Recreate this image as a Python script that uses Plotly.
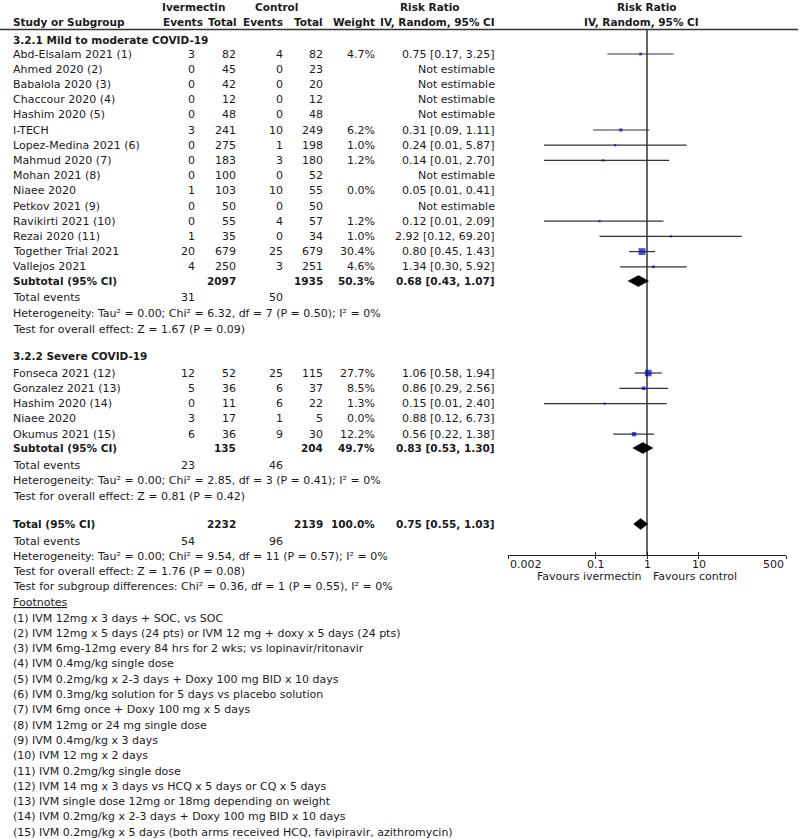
import math
import plotly.graph_objects as go

W, H = 799, 839
FONT = "DejaVu Sans"
FS = 11
FSB = 10.5
TXT = "#1a1a1a"

# ---------------- data ----------------
mild_names = ["Abd-Elsalam 2021 (1)", "Ahmed 2020 (2)", "Babalola 2020 (3)", "Chaccour 2020 (4)",
              "Hashim 2020 (5)", "I-TECH", "Lopez-Medina 2021 (6)", "Mahmud 2020 (7)",
              "Mohan 2021 (8)", "Niaee 2020", "Petkov 2021 (9)", "Ravikirti 2021 (10)",
              "Rezai 2020 (11)", "Together Trial 2021", "Vallejos 2021"]
mild_ivm_events = [3, 0, 0, 0, 0, 3, 0, 0, 0, 1, 0, 0, 1, 20, 4]
mild_ivm_total = [82, 45, 42, 12, 48, 241, 275, 183, 100, 103, 50, 55, 35, 679, 250]
mild_ctl_events = [4, 0, 0, 0, 0, 10, 1, 3, 0, 10, 0, 4, 0, 25, 3]
mild_ctl_total = [82, 23, 20, 12, 48, 249, 198, 180, 52, 55, 50, 57, 34, 679, 251]
mild_weight = [4.7, None, None, None, None, 6.2, 1.0, 1.2, None, 0.0, None, 1.2, 1.0, 30.4, 4.6]
mild_rr = [0.75, None, None, None, None, 0.31, 0.24, 0.14, None, 0.05, None, 0.12, 2.92, 0.80, 1.34]
mild_lo = [0.17, None, None, None, None, 0.09, 0.01, 0.01, None, 0.01, None, 0.01, 0.12, 0.45, 0.30]
mild_hi = [3.25, None, None, None, None, 1.11, 5.87, 2.70, None, 0.41, None, 2.09, 69.20, 1.43, 5.92]

severe_names = ["Fonseca 2021 (12)", "Gonzalez 2021 (13)", "Hashim 2020 (14)", "Niaee 2020", "Okumus 2021 (15)"]
severe_ivm_events = [12, 5, 0, 3, 6]
severe_ivm_total = [52, 36, 11, 17, 36]
severe_ctl_events = [25, 6, 6, 1, 9]
severe_ctl_total = [115, 37, 22, 5, 30]
severe_weight = [27.7, 8.5, 1.3, 0.0, 12.2]
severe_rr = [1.06, 0.86, 0.15, 0.88, 0.56]
severe_lo = [0.58, 0.29, 0.01, 0.12, 0.22]
severe_hi = [1.94, 2.56, 2.40, 6.73, 1.38]

pooled_labels = ["Subtotal (95% CI)", "Subtotal (95% CI)", "Total (95% CI)"]
pooled_ivm_total = [2097, 135, 2232]
pooled_ctl_total = [1935, 204, 2139]
pooled_weight = ["50.3%", "49.7%", "100.0%"]
pooled_rr = [0.68, 0.83, 0.75]
pooled_lo = [0.43, 0.53, 0.55]
pooled_hi = [1.07, 1.30, 1.03]
pooled_ivm_events = [31, 23, 54]
pooled_ctl_events = [50, 46, 96]

stats_lines = [
    ["Heterogeneity: Tau² = 0.00; Chi² = 6.32, df = 7 (P = 0.50); I² = 0%",
     "Test for overall effect: Z = 1.67 (P = 0.09)"],
    ["Heterogeneity: Tau² = 0.00; Chi² = 2.85, df = 3 (P = 0.41); I² = 0%",
     "Test for overall effect: Z = 0.81 (P = 0.42)"],
    ["Heterogeneity: Tau² = 0.00; Chi² = 9.54, df = 11 (P = 0.57); I² = 0%",
     "Test for overall effect: Z = 1.76 (P = 0.08)",
     "Test for subgroup differences: Chi² = 0.36, df = 1 (P = 0.55), I² = 0%"],
]

footnotes = [
    "(1) IVM 12mg x 3 days + SOC, vs SOC",
    "(2) IVM 12mg x 5 days (24 pts) or IVM 12 mg + doxy x 5 days (24 pts)",
    "(3) IVM 6mg-12mg every 84 hrs for 2 wks; vs lopinavir/ritonavir",
    "(4) IVM 0.4mg/kg single dose",
    "(5) IVM 0.2mg/kg x 2-3 days + Doxy 100 mg BID x 10 days",
    "(6) IVM 0.3mg/kg solution for 5 days vs placebo solution",
    "(7) IVM 6mg once + Doxy 100 mg x 5 days",
    "(8) IVM 12mg or 24 mg single dose",
    "(9) IVM 0.4mg/kg x 3 days",
    "(10) IVM 12 mg x 2 days",
    "(11) IVM 0.2mg/kg single dose",
    "(12) IVM 14 mg x 3 days vs HCQ x 5 days or CQ x 5 days",
    "(13) IVM single dose 12mg or 18mg depending on weight",
    "(14) IVM 0.2mg/kg x 2-3 days + Doxy 100 mg BID x 10 days",
    "(15) IVM 0.2mg/kg x 5 days (both arms received HCQ, favipiravir, azithromycin)",
]

tick_vals = [0.002, 0.1, 1, 10, 500]
tick_text = ["0.002", "0.1", "1", "10", "500"]

# ---------------- layout positions (pixels) ----------------
X_NAME = 11
X_IE, X_IT, X_CE, X_CT, X_W, X_RR = 197, 238, 285, 325, 377, 497
AX_L, AX_R = 508, 786
AX_Y = 555
HDR_LINE_Y = 29.5

mild_y = [54 + 15.2 * i for i in range(len(mild_names))]
severe_y = [373 + 15.3 * i for i in range(len(severe_names))]
pooled_y = [281, 448, 524]
events_y = [297, 465, 541]
stats_y = [[313, 329], [480, 496], [556, 571, 586]]
header_y = [40, 356]
foot_head_y = 602
foot_y = [618 + 15.3 * i for i in range(len(footnotes))]

fig = go.Figure()
ann = []


def txt(x, y, s, anchor="left", bold=False, size=None):
    if bold:
        s = "<b>" + s + "</b>"
    if size is None:
        size = FSB if bold else FS
    ann.append(dict(x=x / W, y=y, xref="paper", yref="y", text=s, showarrow=False,
                    xanchor=anchor, yanchor="middle",
                    font=dict(family=FONT, size=size, color=TXT)))


def fmt_ci(r, l, h):
    return f"{r:.2f} [{l:.2f}, {h:.2f}]"


# header
txt(193, 7, "Ivermectin", "center", True)
txt(276, 7, "Control", "center", True)
txt(430, 7, "Risk Ratio", "center", True)
txt(647, 7, "Risk Ratio", "center", True)
txt(X_NAME, 22, "Study or Subgroup", "left", True)
txt(205, 22, "Events", "right", True)
txt(X_IT + 1, 22, "Total", "right", True)
txt(X_CE, 22, "Events", "right", True)
txt(X_CT, 22, "Total", "right", True)
txt(X_W, 22, "Weight", "right", True)
txt(X_RR, 22, "IV, Random, 95% CI", "right", True)
txt(641, 22, "IV, Random, 95% CI", "center", True)

txt(X_NAME, header_y[0], "3.2.1 Mild to moderate COVID-19", "left", True)
txt(X_NAME, header_y[1], "3.2.2 Severe COVID-19", "left", True)

ci_x, ci_y, mk_x, mk_y, mk_s = [], [], [], [], []
groups = [
    (mild_names, mild_ivm_events, mild_ivm_total, mild_ctl_events, mild_ctl_total,
     mild_weight, mild_rr, mild_lo, mild_hi, mild_y),
    (severe_names, severe_ivm_events, severe_ivm_total, severe_ctl_events, severe_ctl_total,
     severe_weight, severe_rr, severe_lo, severe_hi, severe_y),
]
for names, ie, it, ce, ct, wt, rr, lo, hi, ys in groups:
    for i, n in enumerate(names):
        y = ys[i]
        txt(X_NAME, y, n)
        txt(X_IE, y, str(ie[i]), "right")
        txt(X_IT, y, str(it[i]), "right")
        txt(X_CE, y, str(ce[i]), "right")
        txt(X_CT, y, str(ct[i]), "right")
        if wt[i] is not None:
            txt(X_W, y, f"{wt[i]:.1f}%", "right")
        if rr[i] is None:
            txt(X_RR, y, "Not estimable", "right")
        else:
            txt(X_RR, y, fmt_ci(rr[i], lo[i], hi[i]), "right")
            if wt[i] and wt[i] > 0:
                ci_x += [lo[i], hi[i], None]
                ci_y += [y, y, None]
                mk_x.append(rr[i])
                mk_y.append(y)
                mk_s.append(max(2.2, 1.25 * math.sqrt(wt[i])))

for k in range(3):
    y = pooled_y[k]
    txt(X_NAME, y, pooled_labels[k], "left", True)
    txt(X_IT, y, str(pooled_ivm_total[k]), "right", True)
    txt(X_CT, y, str(pooled_ctl_total[k]), "right", True)
    txt(X_W, y, pooled_weight[k], "right", True)
    txt(X_RR, y, fmt_ci(pooled_rr[k], pooled_lo[k], pooled_hi[k]), "right", True)
    txt(X_NAME, events_y[k], "Total events")
    txt(X_IE, events_y[k], str(pooled_ivm_events[k]), "right")
    txt(X_CE, events_y[k], str(pooled_ctl_events[k]), "right")
    for s, yy in zip(stats_lines[k], stats_y[k]):
        txt(X_NAME, yy, s)

txt(X_NAME, foot_head_y, "<u>Footnotes</u>")
for s, yy in zip(footnotes, foot_y):
    txt(X_NAME, yy, s)

# forest plot marks
fig.add_trace(go.Scatter(x=[1, 1], y=[HDR_LINE_Y, AX_Y], mode="lines",
                         line=dict(color="#000000", width=1.2), hoverinfo="skip"))
fig.add_trace(go.Scatter(x=ci_x, y=ci_y, mode="lines",
                         line=dict(color="#333333", width=1.2), hoverinfo="skip"))
fig.add_trace(go.Scatter(x=mk_x, y=mk_y, mode="markers",
                         marker=dict(symbol="square", size=mk_s, color="#0000CC",
                                     line=dict(width=0)), hoverinfo="skip"))
HALF = 5.5
for k in range(3):
    y = pooled_y[k]
    fig.add_trace(go.Scatter(
        x=[pooled_lo[k], pooled_rr[k], pooled_hi[k], pooled_rr[k], pooled_lo[k]],
        y=[y, y - HALF, y, y + HALF, y], mode="lines", fill="toself",
        fillcolor="#000000", line=dict(color="#000000", width=0.5), hoverinfo="skip"))

# tick labels on the axis scale
anchors = ["left", "center", "center", "center", "right"]
for v, t, a in zip(tick_vals, tick_text, anchors):
    ann.append(dict(x=math.log10(v), y=564, xref="x", yref="y", text=t, showarrow=False,
                    xanchor=a, yanchor="middle", font=dict(family=FONT, size=FS, color=TXT)))
txt(644, 576, "Favours ivermectin", "right")
txt(651, 576, "Favours control", "left")

axis_pos = 1 - AX_Y / H
xr = [math.log10(tick_vals[0]), math.log10(tick_vals[-1])]
fig.update_layout(
    width=W, height=H, margin=dict(l=0, r=0, t=0, b=0, pad=0, autoexpand=False),
    paper_bgcolor="white", plot_bgcolor="rgba(0,0,0,0)", showlegend=False,
    xaxis=dict(type="log", domain=[AX_L / W, AX_R / W], range=xr, anchor="free",
               position=axis_pos, showgrid=False, zeroline=False, showline=True,
               linecolor="#222222", linewidth=1.2, ticks="outside", ticklen=3,
               tickcolor="#222222", tickwidth=1.2, tickvals=tick_vals,
               showticklabels=False, fixedrange=True, automargin=False),
    xaxis2=dict(type="log", domain=[AX_L / W, AX_R / W], range=xr, anchor="free",
                position=axis_pos, overlaying="x", showgrid=False, zeroline=False,
                showline=False, ticks="inside", ticklen=3, tickcolor="#222222",
                tickwidth=1.2, tickvals=tick_vals, showticklabels=False, fixedrange=True,
                automargin=False),
    yaxis=dict(range=[H, 0], domain=[0, 1], visible=False, fixedrange=True, automargin=False),
    annotations=ann,
    shapes=[dict(type="line", xref="paper", yref="y", x0=0, x1=798 / W,
                 y0=HDR_LINE_Y, y1=HDR_LINE_Y, line=dict(color="#333333", width=1.6))],
)
# dummy trace to show xaxis2 ticks
fig.add_trace(go.Scatter(x=[1], y=[AX_Y], xaxis="x2", mode="markers",
                         marker=dict(size=0.1, opacity=0), hoverinfo="skip"))

fig.write_html("out.html", config={"displayModeBar": False},
               post_script="document.body.style.margin='0';document.body.style.overflow='hidden';")
